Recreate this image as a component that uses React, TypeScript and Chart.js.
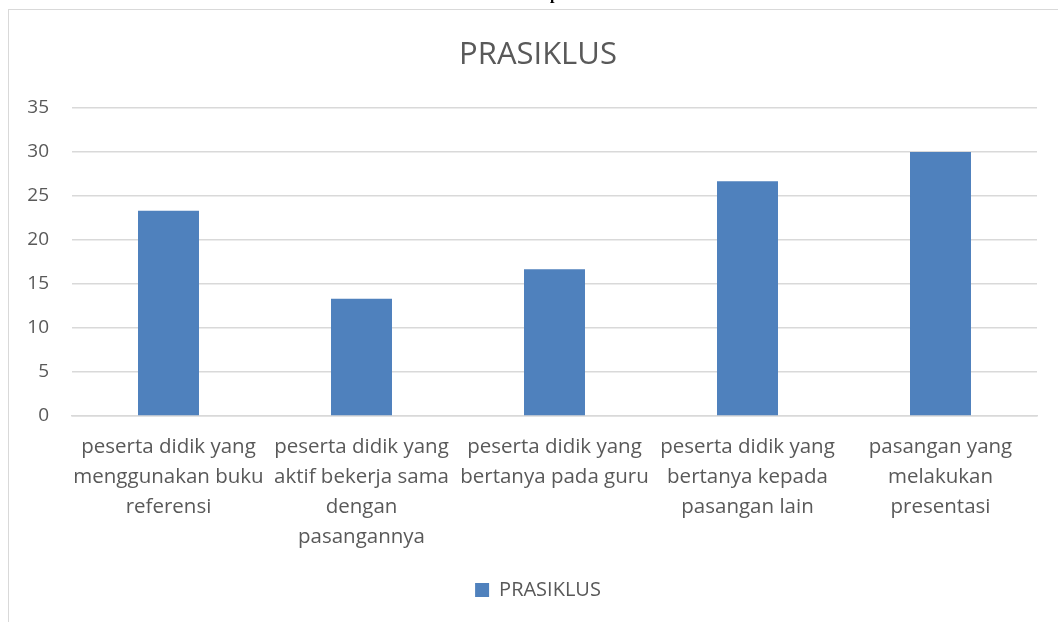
import React, { useEffect, useRef } from "react";
import { Chart, registerables } from "chart.js";

Chart.register(...registerables);

const categories: string[][] = [
  ["peserta didik yang", "menggunakan buku", "referensi"],
  ["peserta didik yang", "aktif bekerja sama", "dengan", "pasangannya"],
  ["peserta didik yang", "bertanya pada guru"],
  ["peserta didik yang", "bertanya kepada", "pasangan lain"],
  ["pasangan yang", "melakukan", "presentasi"],
];
const seriesName = "PRASIKLUS";
const values = [23.33, 13.33, 16.67, 26.67, 30];
const chartTitle = "PRASIKLUS";
const yMin = 0;
const yMax = 35;
const yStep = 5;

const FONT = "'Open Sans', 'Noto Sans', sans-serif";
const TEXT = "#595959";
const GRID = "#d9d9d9";

const titlePlugin = {
  id: "centeredTitle",
  afterLayout(chart: any) {
    // nudge the legend box so it is centred like the original
    if (chart.legend) {
      chart.legend.left += 30;
    }
  },
  afterDraw(chart: any) {
    const ctx = chart.ctx;
    ctx.save();
    ctx.fillStyle = TEXT;
    ctx.font = `31px ${FONT}`;
    ctx.textAlign = "center";
    ctx.textBaseline = "middle";
    ctx.fillText(chartTitle, chart.width / 2 + 4.5, 45);
    ctx.restore();
  },
};

export default function App() {
  const ref = useRef<HTMLCanvasElement | null>(null);

  useEffect(() => {
    if (!ref.current) return;
    const chart = new Chart(ref.current, {
      type: "bar",
      data: {
        labels: categories,
        datasets: [
          {
            label: seriesName,
            data: values,
            backgroundColor: "#4f81bd",
            borderWidth: 0,
            barPercentage: 0.316,
            categoryPercentage: 1,
          },
        ],
      },
      options: {
        responsive: false,
        animation: false,
        layout: { padding: { left: 0, right: 21, top: 98, bottom: 12 } },
        plugins: {
          title: { display: false },
          legend: {
            position: "bottom",
            labels: {
              boxWidth: 14,
              boxHeight: 14,
              color: TEXT,
              font: { family: FONT, size: 20 },
              padding: 10,
            },
          },
          tooltip: { enabled: false },
        },
        scales: {
          x: {
            grid: { display: false },
            border: { display: true, color: GRID, width: 1.5 },
            ticks: {
              color: TEXT,
              font: { family: FONT, size: 20.5, lineHeight: 1.46 },
              padding: 8,
              maxRotation: 0,
              autoSkip: false,
            },
            afterFit: (s: any) => {
              s.height = 154;
            },
          },
          y: {
            min: yMin,
            max: yMax,
            ticks: {
              stepSize: yStep,
              color: TEXT,
              font: { family: FONT, size: 19 },
              padding: 23,
            },
            grid: { color: GRID, lineWidth: 1.5, drawTicks: false },
            border: { display: false },
            afterFit: (s: any) => {
              s.width = 63;
            },
          },
        },
      },
      plugins: [titlePlugin],
    });
    return () => chart.destroy();
  }, []);

  return (
    <>
      <div
        style={{
          position: "fixed",
          left: 550,
          top: -14.4,
          fontFamily: "'Liberation Serif', serif",
          fontWeight: "bold",
          fontSize: 16,
          lineHeight: "16px",
          color: "#000",
        }}
      >
        p
      </div>
      <div
        style={{
          position: "fixed",
          left: 8,
          top: 9,
          width: 1050,
          height: 613,
          borderLeft: `1px solid ${GRID}`,
          borderTop: `1px solid ${GRID}`,
          background: "#fff",
        }}
      >
        <canvas ref={ref} width={1049} height={612} style={{ display: "block", width: 1049, height: 612 }} />
      </div>
    </>
  );
}
